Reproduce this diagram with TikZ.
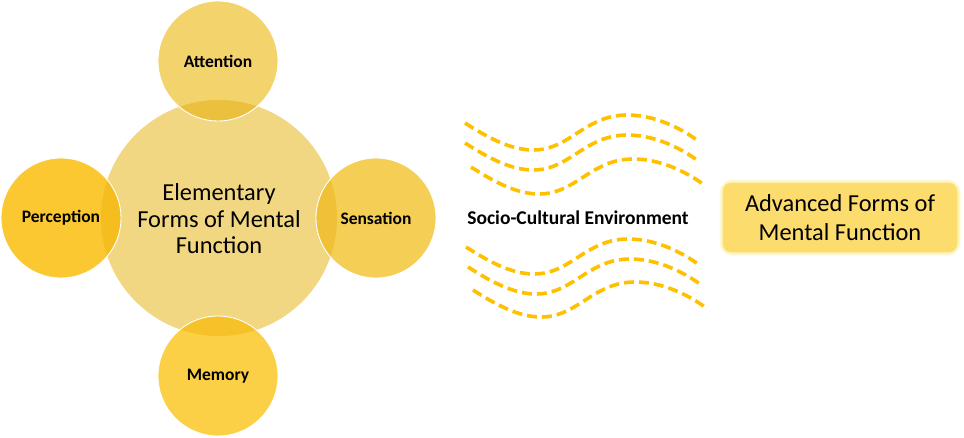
\documentclass[tikz,border=0pt]{standalone}
\usepackage{fontspec}
\setmainfont{Carlito}
\begin{document}
\begin{tikzpicture}[x=1pt,y=-1pt,
  sat/.style={circle,minimum size=120pt,inner sep=0pt,font=\fontsize{17.5}{20}\selectfont\bfseries},
  wave/.style={line width=3.6pt,dash pattern=on 10pt off 5pt,draw={rgb,255:red,255;green,192;blue,0}},
  lbl/.style={font=\fontsize{19.5}{22}\selectfont\bfseries}]
\definecolor{cmain}{RGB}{242,215,130}
\definecolor{catt}{RGB}{243,211,108}
\definecolor{cper}{RGB}{251,200,50}
\definecolor{csen}{RGB}{245,206,85}
\definecolor{cmem}{RGB}{252,208,70}
\definecolor{oatt}{RGB}{235,192,62}
\definecolor{oper}{RGB}{245,190,30}
\definecolor{osen}{RGB}{240,193,55}
\definecolor{omem}{RGB}{246,194,40}
\definecolor{cbox}{RGB}{253,220,110}
\definecolor{glow}{RGB}{255,236,140}
\useasboundingbox (0,0) rectangle (964,437);
% central circle
\node[circle,minimum size=236pt,inner sep=0pt,fill=cmain] (main) at (219,218) {};
% satellites
\node[sat,fill=catt] (att) at (218,61) {};
\node[sat,fill=cper] (per) at (61,218) {};
\node[sat,fill=csen] (sen) at (376,218) {};
\node[sat,fill=cmem] (mem) at (218,376) {};
% overlaps
\begin{scope}
  \clip (219,218) circle (118);
  \fill[oatt] (218,61) circle (60);
  \fill[oper] (61,218) circle (60);
  \fill[osen] (376,218) circle (60);
  \fill[omem] (218,376) circle (60);
\end{scope}
\foreach \p in {(218,61),(61,218),(376,218),(218,376)}
  \draw[white,line width=0.9pt] \p circle (60);
% labels
\node[sat] at (att) {Attention};
\node[sat] at (per) {Perception};
\node[sat] at (sen) {Sensation};
\node[sat] at (mem) {Memory};
\node[align=center,font=\fontsize{24.4}{26.5}\selectfont] (maintxt) at (219,219) {Elementary\\Forms of Mental\\Function};
% waves
\foreach \sx/\sy in {465/123,465/143,471/167,466/247,468/267,473/290}{
  \draw[wave,shift={(\sx,\sy)}] (0,0) .. controls (22,14) and (45,27) .. (68,27)
     .. controls (105,27) and (120,-8) .. (162,-8)
     .. controls (190,-8) and (215,5) .. (232,17);
}
\node[lbl] (soc) at (578,218) {Socio-Cultural Environment};
% advanced box
\draw[glow,line width=7pt,opacity=0.35,rounded corners=10pt] (723,183) rectangle (957,252);
\draw[glow,line width=3.5pt,opacity=0.6,rounded corners=9pt] (723,183) rectangle (957,252);
\node[draw=none,fill=cbox,rounded corners=8pt,minimum width=234pt,minimum height=69pt,align=center,
  font=\fontsize{24.4}{28.5}\selectfont] (adv) at (840,217.5) {Advanced Forms of\\Mental Function};
\end{tikzpicture}
\end{document}
